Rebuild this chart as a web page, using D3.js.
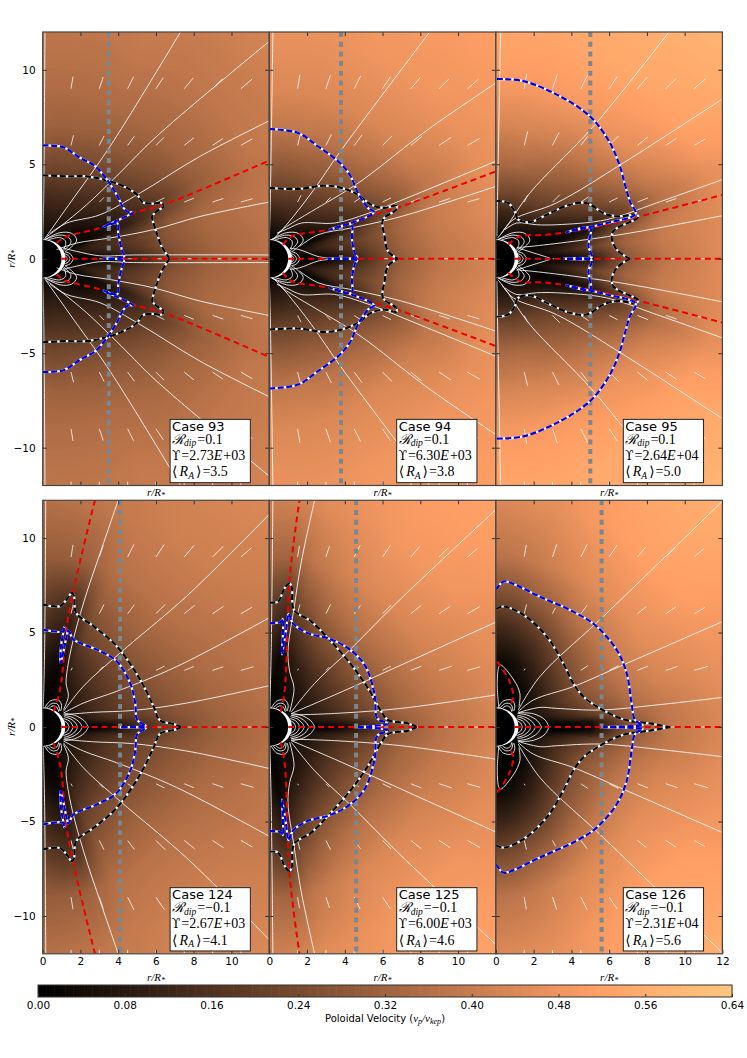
<!DOCTYPE html>
<html lang="en">
<head>
<meta charset="UTF-8">
<title>Poloidal velocity cases</title>
<script src="https://d3js.org/d3.v7.min.js"></script>
<style>
    body{ margin:0; background:#fff; }
    svg{ display:block; }
    text{ font-family:"DejaVu Sans",sans-serif; fill:#000; }
    .math, .math text{ font-family:"Liberation Serif",serif; }
    .axis path{ display:none; }
    .axis line{ stroke:#333; stroke-width:1; }
    .axis text{ font-size:10.5px; font-family:"DejaVu Sans",sans-serif; }
</style>
</head>
<body>
<svg width="747" height="1058"></svg>
<script>
var caseNames = ["93","94","95","124","125","126"];
var rdipValues = ["0.1","0.1","0.1","\u22120.1","\u22120.1","\u22120.1"];
var upsilonValues = ["2.73","6.30","2.64","2.67","6.00","2.31"];
var upsilonExps = ["+03","+03","+04","+03","+03","+04"];
var meanRA = [3.5,3.8,5.0,4.1,4.6,5.6];

var xTicks = [0,2,4,6,8,10,12];
var yTicks = [-10,-5,0,5,10];
var cbarTicks = [0,0.08,0.16,0.24,0.32,0.40,0.48,0.56,0.64];

// field table, v_p/v_kep by latitude (rows) and radius (columns), upper half only
var fieldRadii = [1,1.5,2.5,3.5,5,7,9,12,17];
var fieldLats = [0,3,7,12,17,22,27,35,45,55,65,75,82,90];

var field93 = [
[0,0,.01,.04,.12,.25,.31,.36,.40],[0,0,.02,.06,.14,.26,.32,.37,.40],[0,.02,.06,.12,.18,.28,.33,.37,.41],
[0,.04,.1,.14,.2,.29,.34,.38,.41],[0,.03,.09,.13,.17,.28,.34,.38,.42],[0,.01,.02,.05,.11,.22,.31,.37,.42],
[0,.02,.03,.05,.12,.2,.3,.38,.43],[0,.02,.03,.08,.15,.24,.32,.38,.43],[0,.02,.06,.11,.18,.27,.33,.38,.43],
[0,.04,.08,.13,.2,.29,.34,.38,.42],[0,.05,.09,.14,.22,.3,.35,.39,.42],[0,.05,.1,.15,.23,.31,.35,.38,.41],
[0,.05,.1,.15,.23,.31,.35,.38,.4],[0,.05,.1,.15,.24,.32,.35,.38,.4]];
var field94 = [
[0,0,.01,.04,.15,.3,.38,.43,.47],[0,0,.02,.07,.17,.31,.38,.43,.47],[0,.02,.05,.12,.2,.32,.39,.44,.48],
[0,.04,.1,.15,.22,.33,.4,.45,.49],[0,.03,.08,.13,.19,.32,.4,.45,.5],[0,.01,.02,.06,.13,.26,.38,.46,.5],
[0,.01,.03,.08,.16,.28,.38,.46,.51],[0,.02,.05,.12,.21,.32,.41,.47,.51],[0,.02,.09,.16,.25,.35,.43,.48,.51],
[0,.04,.11,.18,.27,.37,.44,.48,.51],[0,.05,.12,.19,.29,.38,.44,.48,.5],[0,.05,.12,.2,.29,.39,.44,.47,.49],
[0,.05,.12,.2,.29,.39,.44,.47,.49],[0,.05,.12,.2,.3,.39,.44,.47,.48]];
var field95 = [
[0,0,.01,.02,.08,.28,.38,.45,.5],[0,0,.01,.05,.12,.3,.39,.45,.5],[0,.02,.05,.1,.2,.33,.4,.45,.5],
[0,.02,.04,.07,.14,.3,.4,.45,.51],[0,.01,.01,.02,.06,.2,.36,.45,.52],[0,.01,.01,.03,.1,.22,.36,.46,.54],
[0,.01,.03,.07,.16,.28,.4,.49,.55],[0,.02,.05,.12,.22,.34,.44,.52,.57],[0,.02,.08,.18,.27,.38,.47,.53,.58],
[0,.04,.1,.2,.3,.4,.48,.54,.58],[0,.05,.12,.22,.32,.42,.49,.54,.57],[0,.05,.12,.22,.34,.43,.49,.53,.56],
[0,.05,.12,.23,.34,.43,.49,.53,.55],[0,.05,.12,.23,.34,.43,.49,.53,.55]];
var field124 = [
[0,0,.01,.03,.12,.24,.31,.36,.4],[0,0,.02,.06,.15,.25,.31,.36,.4],[0,.03,.07,.13,.2,.27,.32,.37,.4],
[0,.04,.1,.16,.22,.28,.33,.37,.41],[0,.05,.11,.17,.23,.29,.34,.38,.41],[0,.05,.12,.17,.23,.3,.35,.38,.42],
[0,.05,.12,.17,.24,.3,.35,.39,.42],[0,.05,.11,.17,.24,.31,.36,.4,.43],[0,.04,.1,.16,.24,.32,.37,.41,.44],
[0,.03,.08,.14,.23,.31,.37,.41,.44],[0,.02,.05,.11,.2,.29,.36,.4,.43],[0,.01,.01,.03,.08,.17,.31,.38,.41],
[0,.01,.02,.04,.1,.18,.3,.37,.4],[0,.02,.04,.08,.14,.21,.3,.36,.39]];
var field125 = [
[0,0,.01,.02,.1,.28,.37,.43,.47],[0,0,.02,.05,.14,.3,.37,.43,.47],[0,.02,.06,.11,.2,.32,.38,.44,.47],
[0,.03,.08,.14,.23,.33,.39,.44,.48],[0,.04,.09,.15,.24,.34,.4,.45,.48],[0,.04,.09,.16,.25,.35,.41,.46,.49],
[0,.04,.09,.16,.25,.35,.42,.46,.5],[0,.04,.09,.16,.26,.36,.43,.48,.51],[0,.03,.08,.15,.25,.37,.44,.49,.52],
[0,.03,.06,.13,.24,.36,.44,.49,.52],[0,.02,.05,.1,.21,.33,.42,.47,.51],[0,.01,.03,.06,.14,.27,.38,.45,.49],
[0,.01,.01,.02,.08,.18,.32,.42,.47],[0,.01,.03,.07,.14,.22,.33,.41,.45]];
var field126 = [
[0,0,0,0,.02,.26,.38,.44,.48],[0,0,0,.01,.05,.28,.38,.44,.48],[0,.02,.03,.08,.18,.32,.39,.45,.49],
[0,.03,.07,.13,.24,.35,.41,.46,.5],[0,.03,.08,.15,.26,.37,.43,.47,.5],[0,.03,.08,.16,.28,.38,.44,.48,.51],
[0,.03,.08,.16,.28,.39,.45,.49,.52],[0,.02,.07,.15,.27,.39,.46,.51,.54],[0,.02,.05,.13,.25,.38,.46,.52,.56],
[0,.01,.03,.1,.21,.36,.45,.51,.56],[0,.01,.02,.07,.17,.32,.43,.49,.54],[0,0,.01,.04,.14,.29,.4,.46,.5],
[0,0,0,.03,.12,.26,.38,.45,.48],[0,0,0,.03,.11,.25,.37,.44,.47]];

// Alfven surface, upper half
var alfven93 = [[0,6],[1.1,5.9],[2,5.33],[2.77,4.9],[3.4,4.19],[3.92,3.39],[4.28,2.69],[4.54,2.47],[4.8,2.46],[3.92,2.01],[3.2,1.68],[3.96,1.87],[4,1.36],[4.19,.48],[4.31,.12],[3.2,0]];
var alfven94 = [[0,6.87],[1.52,6.66],[2.58,5.95],[3.64,5.16],[4.26,4.45],[4.7,3.48],[5.23,2.69],[5.55,2.46],[4.35,1.89],[3.2,1.54],[4.35,1.8],[4.38,1],[4.56,.21],[4.66,.09],[3.1,0]];
var alfven95 = [[.05,9.52],[1.45,9.4],[3.2,8.7],[4.98,7.54],[6.04,6.13],[6.57,4.89],[6.84,3.92],[7.1,3.04],[7.4,2.37],[5.87,1.89],[3.75,1.41],[5,1.63],[4.9,.65],[5.07,.09],[3.57,0]];
var alfven124 = [[0,5.16],[1.1,5.07],[1.15,5.3],[.97,4.28],[.95,3.39],[1.27,4.8],[1.36,5.1],[1.63,4.63],[2.86,4.1],[3.92,3.48],[4.63,2.33],[4.9,1.27],[5,.39],[5.3,.16],[5.46,.07],[4.1,0]];
var alfven125 = [[0,5.49],[.64,5.58],[.72,5.72],[.72,4.88],[.67,3.82],[.9,5.23],[1.02,5.99],[1.25,5.49],[2.05,4.96],[3.11,4.7],[4.17,4.17],[5.05,3.29],[5.58,1.7],[5.72,.46],[6.29,.19],[4.7,0]];
var alfven126 = [[0,7.26],[.39,7.7],[.74,7.65],[2.33,6.9],[4.27,6.02],[5.34,5.32],[6.4,4.08],[6.93,2.84],[7.19,1.25],[7.37,.37],[7.72,.14],[7.77,.1],[5.69,0]];

// sonic surface, upper half
var sonic93 = [[0,4.42],[1.27,4.36],[2.33,4.36],[3.57,4.1],[4.45,3.75],[5,3.39],[5.3,2.99],[5.87,2.92],[6.3,2.95],[6.4,2.77],[6.04,2.51],[5.8,2.24],[5.87,1.89],[6.04,1.36],[6.3,.65],[6.66,.09],[6.7,0]];
var sonic94 = [[0,3.75],[1.52,3.69],[2.93,3.87],[3.82,3.75],[4.7,3.39],[5.4,2.86],[6.11,2.69],[6.73,2.81],[6.73,2.6],[6.02,2.07],[6.11,1.18],[6.29,.39],[6.8,0]];
var sonic95 = [[0,3.07],[.65,2.95],[1,2.5],[1.18,2.07],[1.8,1.94],[2.86,2.42],[3.92,2.86],[4.8,2.95],[5.69,2.42],[6.4,2.24],[7.46,2.33],[7.54,2.2],[6.3,1.54],[6.13,1.18],[6.4,.48],[7.1,0]];
var sonic124 = [[0,6.48],[.92,6.4],[1.27,6.75],[1.54,7.1],[1.66,6.93],[1.77,6.04],[2.69,5.34],[3.92,4.28],[5.16,2.51],[5.87,1.1],[6.22,.35],[6.93,.16],[7.28,.03],[7.3,0]];
var sonic125 = [[0,6.6],[.46,6.64],[.81,7.35],[1.08,7.61],[1.2,7.35],[1.31,6.2],[2.23,5.58],[3.11,4.7],[4.35,3.29],[5.23,2.05],[5.94,.81],[6.29,.37],[7.35,.19],[7.8,0]];
var sonic126 = [[0,6.24],[.39,6.38],[1.45,5.94],[2.69,4.79],[3.57,3.37],[4.1,2.31],[4.63,1.61],[5.51,.99],[6.75,.41],[8.16,.19],[9.22,0]];

// current sheets, upper half
var sheet93 = [[.74,.83],[1.18,1.15],[3.04,1.63],[4.8,2.42],[6.4,2.86],[12,5.2]];
var sheet94 = [[.72,.74],[1.17,1.18],[3.11,1.54],[5.58,2.33],[7,2.77],[12,4.62]];
var sheet95 = [[.65,.74],[1.27,1.18],[2.69,1.27],[5,1.63],[7.46,2.2],[12,3.38]];
var sheet124 = [[.57,.83],[.92,1.98],[1.36,5.87],[2.77,12]];
var sheet125 = [[.6,.81],[.81,1.87],[1.08,7.88],[1.6,12]];
var sheet126 = [[.07,3.46],[.69,2.49],[.92,1.61],[.72,1.04]];
var equatorSheet = [[1,0],[12,0]];

// white field lines, upper half
var lines93 = [
[[0,1],[.05,3],[.12,12]],
[[.1,1.05],[1.45,2.95],[3.57,5.95],[7.3,12]],
[[.2,1.15],[.92,1.7],[2.33,2.86],[3.9,4.36],[6.04,6.48],[12,11.5]],
[[.39,1.35],[1.27,1.89],[3.04,2.33],[5.16,3.48],[8.3,5.4],[12,7.3]],
[[.74,.48],[1.8,.83],[3.57,1.1],[5.87,1.54],[8.34,2.24],[12,3]],
[[1.1,.56],[1.8,.39],[3,.16],[4.8,.2],[12,.2]]];
var lines94 = [
[[0,1],[.05,3],[.19,12]],
[[.19,1],[.99,1.89],[2.23,3.48],[3.9,5.87],[8.5,12]],
[[.45,1.35],[.99,1.75],[2.23,2.5],[4.7,4],[8.41,6.84],[12,9.3]],
[[.4,1.35],[1,1.6],[1.7,1.89],[3.46,1.89],[5.23,2.4],[7.5,3.3],[12,5.16]],
[[1.6,.65],[2.58,1.27],[4.35,1.63],[7,2.24],[12,3.83]],
[[1.1,.56],[1.6,.48],[2.58,.12],[3.1,.04]]];
var lines95 = [
[[.05,1.18],[.1,4],[.25,12]],
[[.1,1.1],[.57,1.71],[1.8,3.48],[5.16,7],[9.17,12]],
[[.3,1.35],[.92,2.07],[3.2,2.95],[6.75,5.07],[12,8.46]],
[[.48,1.54],[1.1,1.89],[2.16,1.8],[3.2,1.8],[5.87,2.07],[8.5,2.95],[12,4.19]],
[[1.2,.6],[1.8,.65],[4.1,.92],[7.1,1.36],[12,2.28]],
[[1.1,.6],[1.45,.48],[2.86,.04]]];
var lines124 = [
[[.03,1],[.1,4],[.16,12]],
[[1.1,.92],[1.36,1.63],[1.24,2.33],[1.36,3.39],[1.71,4.98],[2.33,7.1],[3.04,9.2],[4,12]],
[[1.1,.83],[2.16,2.16],[4.1,3.92],[7.63,6.93],[12,11.25]],
[[1.1,.74],[2.16,1.27],[3.92,1.89],[7.1,3.2],[12,5.78]],
[[1.1,.65],[2.69,.78],[4.8,.88],[7.63,1.27],[12,2.19]]];
var lines125 = [
[[.03,1],[.1,4],[.19,12]],
[[1.08,.81],[1.31,2.05],[1.08,2.93],[.99,4],[1.31,6.29],[1.7,8.76],[2.4,12]],
[[1.17,.81],[2.4,2.31],[4.35,4.17],[7,6.82],[12,11.5]],
[[1.17,.72],[3.46,1.7],[7,3.29],[12,5.55]],
[[1.17,.64],[3.46,.72],[7,.99],[12,1.7]]];
var lines126 = [
[[.16,.99],[.07,2.3],[.16,3.2],[.25,3.29],[.95,2.49],[1.27,1.78],[1.22,1.08]],
[[1.18,.9],[2.33,2.67],[5.69,5.85],[12,11.95]],
[[1.18,.81],[1.98,1.43],[4.1,2.14],[6.75,3.29],[12,5.58]],
[[1.18,.76],[2.33,1.04],[3.2,.99],[5.51,.9],[8.52,1.17],[12,1.57]]];

// closed loops near the star
var loopsPositive = [
[[.12,1.02],[.92,1.38],[1.54,1.34],[1.8,.99],[1.54,.64],[1.18,.37]],
[[.12,1.02],[.9,1.25],[1.35,1.15],[1.5,.9],[1.3,.6],[1.1,.42]],
[[.3,1],[.9,1.12],[1.2,.95],[1.2,.7],[1.08,.48]],
[[1.18,.37],[1.45,.27],[1.63,0]],
[[1.12,.28],[1.35,.18],[1.45,0]],
[[1.08,.2],[1.25,.12],[1.3,0]]];
var loopsNegative = [
[[.1,1],[.4,1.38],[.85,1.42],[1,1.15],[.95,.85]],
[[.2,1],[.5,1.25],[.8,1.2],[.9,.85]],
[[.35,1],[.55,1.12],[.75,1.05],[.85,.8]],
[[1.15,.72],[1.7,.62],[2.2,.33],[2.42,0]],
[[1.15,.62],[1.6,.5],[1.95,.25],[2.1,0]],
[[1.12,.55],[1.5,.42],[1.75,.2],[1.85,0]],
[[1.1,.45],[1.4,.33],[1.55,.15],[1.6,0]],
[[1.08,.35],[1.3,.22],[1.4,0]]];
var loopsExtra126 = [[[1.2,.76],[2,.7],[2.6,.38],[2.81,0]]];

// velocity arrows: grid columns and rows, length in r/R_* (0 = no arrow)
var arrowX = [1.5,3,4.5,6,7.5,9,10.5];
var arrowY = [9,6,3,0];
var arrows93 = [[.65,.65,.7,.7,.75,.75,.8],[.55,.55,.6,.6,.65,.65,.7],[0,.35,0,.5,.55,.6,.65],[0,.15,.25,.35,.5,.55,.6]];
var arrows94 = [[.75,.75,.75,.75,.75,.75,.75],[.65,.65,.7,.7,.75,.75,.75],[.4,.35,.4,.5,.5,.6,.65],[0,0,0,.4,.45,.6,.7]];
var arrows95 = [[.8,.8,.8,.8,.8,.8,.8],[.75,.75,.6,.7,.7,.7,.7],[.4,.55,.5,.5,.6,.6,.65],[0,.1,.3,.4,.55,.6,.7]];
var arrows124 = [[.65,.65,.75,.8,.8,.8,.75],[.5,.55,.6,.7,.7,.7,.7],[.15,.3,.4,.5,.55,.6,.7],[0,0,0,.3,.5,.55,.65]];
var arrows125 = [[.6,.6,.7,.75,.75,.7,.7],[.5,.55,.55,.65,.7,.7,.75],[.1,.25,.3,.5,.6,.7,.7],[0,0,0,.4,.55,.55,.65]];
var arrows126 = [[.65,.7,.75,.75,.7,.7,.7],[.5,.35,.55,0,.6,.65,.65],[.1,0,.45,.55,.6,.65,.75],[0,0,0,0,.2,.45,.6]];

var panels = [
    {field:field93,alfven:alfven93,sonic:sonic93,sheet:sheet93,lines:lines93,loops:loopsPositive,arrows:arrows93},
    {field:field94,alfven:alfven94,sonic:sonic94,sheet:sheet94,lines:lines94,loops:loopsPositive,arrows:arrows94},
    {field:field95,alfven:alfven95,sonic:sonic95,sheet:sheet95,lines:lines95,loops:loopsPositive,arrows:arrows95},
    {field:field124,alfven:alfven124,sonic:sonic124,sheet:sheet124,lines:lines124,loops:loopsNegative,arrows:arrows124},
    {field:field125,alfven:alfven125,sonic:sonic125,sheet:sheet125,lines:lines125,loops:loopsNegative,arrows:arrows125},
    {field:field126,alfven:alfven126,sonic:sonic126,sheet:sheet126,lines:lines126,loops:loopsNegative.concat(loopsExtra126),arrows:arrows126}
];

var svg = d3.select("svg");
var panelLeft = [42.7,269.3,495.9], panelW = 226.5;
var rowTop = [32,500.3], panelH = 453.5;

var vmax = 0.64;
// matplotlib copper
var copper = d3.scaleLinear().domain([0,0.8*vmax,vmax]).range(["#000000","#ff9f65","#ffc77f"]).clamp(true);
var lut = d3.range(257).map(function(i){ return d3.rgb(copper(i/256*vmax)); });

var curve = d3.curveCatmullRom.alpha(0.5);

function fieldImage(table){
    var w = Math.round(panelW), h = Math.round(panelH);
    var cv = document.createElement("canvas");
    cv.width = w; cv.height = h;
    var ctx = cv.getContext("2d"), im = ctx.createImageData(w,h);
    var rs = d3.scaleLinear().domain([0,w]).range([0,12]);
    var ys = d3.scaleLinear().domain([0,h]).range([12,-12]);
    var rScales = table.map(function(row){ return d3.scaleLinear().domain(fieldRadii).range(row).clamp(true); });
    var nLat = fieldLats.length;
    for(var j=0;j<h;j++){
        for(var i=0;i<w;i++){
            var px = rs(i+.5), py = Math.abs(ys(j+.5));
            var r = Math.sqrt(px*px+py*py), lat = Math.atan2(py,px)*180/Math.PI;
            var k = Math.min(nLat-1,Math.max(1,d3.bisectRight(fieldLats,lat)));
            var f = (lat-fieldLats[k-1])/(fieldLats[k]-fieldLats[k-1]);
            var v = rScales[k-1](r)*(1-f)+rScales[k](r)*f;
            var c = lut[Math.round(Math.min(v/vmax,1)*256)];
            var o = (j*w+i)*4;
            im.data[o]=c.r; im.data[o+1]=c.g; im.data[o+2]=c.b; im.data[o+3]=255;
        }
    }
    ctx.putImageData(im,0,0);
    return cv.toDataURL();
}

panels.forEach(function(p,idx){
    var col = idx%3, row = Math.floor(idx/3);
    var x = d3.scaleLinear().domain([0,12]).range([panelLeft[col],panelLeft[col]+panelW]);
    var y = d3.scaleLinear().domain([12,-12]).range([rowTop[row],rowTop[row]+panelH]);
    var line = d3.line().x(function(d){return x(d[0]);}).y(function(d){return y(d[1]);}).curve(curve);
    var mirror = function(d){ return d.map(function(q){ return [q[0],-q[1]]; }); };

    var clipId = "clip"+idx;
    svg.append("clipPath").attr("id",clipId).append("rect")
        .attr("x",x(0)).attr("y",y(12)).attr("width",panelW).attr("height",panelH);
    var g = svg.append("g").attr("clip-path","url(#"+clipId+")");

    g.append("image").attr("x",x(0)).attr("y",y(12)).attr("width",panelW).attr("height",panelH)
        .attr("preserveAspectRatio","none").attr("href",fieldImage(p.field));

    // white band from the packed footpoints, star on top
    g.append("ellipse").attr("cx",x(0)).attr("cy",y(0))
        .attr("rx",x(1.2)-x(0)).attr("ry",y(0)-y(1.03)).attr("fill","#fff");
    g.append("circle").attr("cx",x(0)).attr("cy",y(0)).attr("r",x(1)-x(0)).attr("fill","#000");

    function both(data,style){
        [data,mirror(data)].forEach(function(d){
            var pth = g.append("path").attr("d",line(d)).attr("fill","none");
            Object.keys(style).forEach(function(k){ pth.attr(k,style[k]); });
        });
    }

    p.loops.concat(p.lines).forEach(function(l){
        both(l,{stroke:"#fff","stroke-width":1,"stroke-opacity":.85});
    });

    // arrows, heads too small to show at this size
    p.arrows.forEach(function(lens,ri){
        var ay = arrowY[ri];
        lens.forEach(function(len,ci){
            if(!len) return;
            var ax = arrowX[ci], d = Math.sqrt(ax*ax+ay*ay);
            (ay===0?[1]:[1,-1]).forEach(function(s){
                g.append("line")
                    .attr("x1",x(ax)).attr("y1",y(s*ay))
                    .attr("x2",x(ax+len*ax/d)).attr("y2",y(s*(ay+len*ay/d)))
                    .attr("stroke","#fff").attr("stroke-width",1).attr("stroke-opacity",.75);
            });
        });
    });
    // arrows of the bottom grid row, mostly outside the frame
    arrowX.forEach(function(ax){
        g.append("line").attr("x1",x(ax)).attr("x2",x(ax)).attr("y1",y(-12)).attr("y2",y(-11.8))
            .attr("stroke","#fff").attr("stroke-opacity",.8);
    });

    // mean Alfven radius
    g.append("line").attr("x1",x(meanRA[idx])).attr("x2",x(meanRA[idx]))
        .attr("y1",y(12)).attr("y2",y(-12))
        .attr("stroke","#7b878e").attr("stroke-width",4).attr("stroke-dasharray","5 4.7");

    // current sheet
    both(p.sheet,{stroke:"#f00000","stroke-width":2,"stroke-dasharray":"6 4"});
    g.append("path").attr("d",d3.line().x(function(d){return x(d[0]);}).y(function(d){return y(d[1]);})(equatorSheet))
        .attr("fill","none").attr("stroke","#f00000").attr("stroke-width",2).attr("stroke-dasharray","6 4");

    // sonic and Alfven surfaces
    both(p.sonic,{stroke:"#fff","stroke-width":2.2});
    both(p.sonic,{stroke:"#000","stroke-width":2.2,"stroke-dasharray":"6 2.5"});
    both(p.alfven,{stroke:"#fff","stroke-width":2.2});
    both(p.alfven,{stroke:"#0000e0","stroke-width":2.2,"stroke-dasharray":"6 2.5"});

    // frame and ticks
    var tk = svg.append("g");
    var xIn = xTicks.slice(1,-1);
    var bottomAxis = d3.axisBottom(x).tickSize(-4).tickPadding(4)
        .tickValues(row===1 ? (col===2?xTicks:xTicks.slice(0,-1)) : xIn)
        .tickFormat(row===1 ? d3.format("d") : "");
    tk.append("g").attr("class","axis").attr("transform","translate(0,"+y(-12)+")").call(bottomAxis);
    tk.append("g").attr("class","axis").attr("transform","translate(0,"+y(12)+")")
        .call(d3.axisTop(x).tickSize(-4).tickValues(xIn).tickFormat(""));
    tk.append("g").attr("class","axis").attr("transform","translate("+x(0)+",0)")
        .call(d3.axisLeft(y).tickSize(-4).tickPadding(7).tickValues(yTicks).tickFormat(col===0?d3.format("d"):""));
    tk.append("g").attr("class","axis").attr("transform","translate("+x(12)+",0)")
        .call(d3.axisRight(y).tickSize(-4).tickValues(yTicks).tickFormat(""));
    tk.append("rect").attr("x",x(0)).attr("y",y(12)).attr("width",panelW).attr("height",panelH)
        .attr("fill","none").attr("stroke","#444").attr("stroke-width",1.2);

    // legend box
    var bx = x(6.75), by = y(-8.5);
    var box = svg.append("g");
    box.append("rect").attr("x",bx).attr("y",by).attr("width",x(11)-x(6.75)).attr("height",y(-11.85)-y(-8.5))
        .attr("fill","#fff").attr("stroke","#222").attr("stroke-width",1);
    box.append("text").attr("x",bx+2).attr("y",by+11.5).attr("font-size",13).text("Case "+caseNames[idx]);
    var t1 = box.append("text").attr("class","math").attr("x",bx+2).attr("y",by+24.5).attr("font-size",14);
    t1.append("tspan").attr("font-style","italic").text("\u211B");
    t1.append("tspan").attr("font-style","italic").attr("font-size",9.5).attr("dy",2.5).text("dip");
    t1.append("tspan").attr("dy",-2.5).attr("dx",1).text("="+rdipValues[idx]);
    var t2 = box.append("text").attr("class","math").attr("x",bx+2).attr("y",by+40.5).attr("font-size",14);
    t2.append("tspan").attr("font-family","DejaVu Serif").attr("font-size",12).text("\u03D2");
    t2.append("tspan").attr("dx",1).text("="+upsilonValues[idx]);
    t2.append("tspan").attr("font-style","italic").text("E");
    t2.append("tspan").attr("dx",1).text(upsilonExps[idx]);
    var t3 = box.append("text").attr("class","math").attr("x",bx+2).attr("y",by+57).attr("font-size",14);
    t3.append("tspan").attr("font-family","DejaVu Sans").text("\u27E8");
    t3.append("tspan").attr("font-style","italic").attr("dx",2).text("R");
    t3.append("tspan").attr("font-style","italic").attr("font-size",9.5).attr("dy",2.5).text("A");
    t3.append("tspan").attr("dy",-2.5).attr("dx",2).attr("font-family","DejaVu Sans").text("\u27E9");
    t3.append("tspan").attr("dx",1).text("="+d3.format(".1f")(meanRA[idx]));

    // x label under every panel
    var xl = svg.append("text").attr("class","math").attr("text-anchor","middle")
        .attr("x",x(6)).attr("y",row===0?y(-12)+10.5:y(-12)+27).attr("font-size",11).attr("font-style","italic");
    xl.append("tspan").text("r/R");
    xl.append("tspan").attr("font-size",8).attr("dy",2).text("*");

    // y label on the left column
    if(col===0){
        var yl = svg.append("text").attr("class","math").attr("text-anchor","middle")
            .attr("transform","translate(15,"+y(0)+") rotate(-90)")
            .attr("font-size",11).attr("font-style","italic");
        yl.append("tspan").text("r/R");
        yl.append("tspan").attr("font-size",8).attr("dy",2).text("*");
    }
});

// colorbar
var cbX = d3.scaleLinear().domain([0,vmax]).range([38,732]);
var cbTop = 985, cbH = 12;
svg.append("g").selectAll("rect").data(d3.range(0,vmax,vmax/256)).enter().append("rect")
    .attr("x",function(d){return cbX(d);}).attr("y",cbTop)
    .attr("width",cbX(vmax/256)-cbX(0)+.6).attr("height",cbH)
    .attr("fill",function(d){return copper(d);});
svg.append("g").attr("class","axis").attr("transform","translate(0,"+(cbTop+cbH)+")")
    .call(d3.axisBottom(cbX).tickValues(cbarTicks).tickSize(-3).tickPadding(5).tickFormat(d3.format(".2f")));
svg.append("rect").attr("x",38).attr("y",cbTop).attr("width",694).attr("height",cbH)
    .attr("fill","none").attr("stroke","#333").attr("stroke-width",1);
var cbl = svg.append("text").attr("text-anchor","middle").attr("x",385).attr("y",1022).attr("font-size",10);
cbl.append("tspan").text("Poloidal Velocity (");
cbl.append("tspan").attr("class","math").attr("font-family","Liberation Serif").attr("font-style","italic").attr("font-size",11).text("v");
cbl.append("tspan").attr("font-family","Liberation Serif").attr("font-style","italic").attr("font-size",8).attr("dy",2).text("p");
cbl.append("tspan").attr("font-family","Liberation Serif").attr("font-style","italic").attr("font-size",11).attr("dy",-2).text("/v");
cbl.append("tspan").attr("font-family","Liberation Serif").attr("font-style","italic").attr("font-size",8).attr("dy",2).text("kep");
cbl.append("tspan").attr("dy",-2).text(")");
</script>
</body>
</html>
